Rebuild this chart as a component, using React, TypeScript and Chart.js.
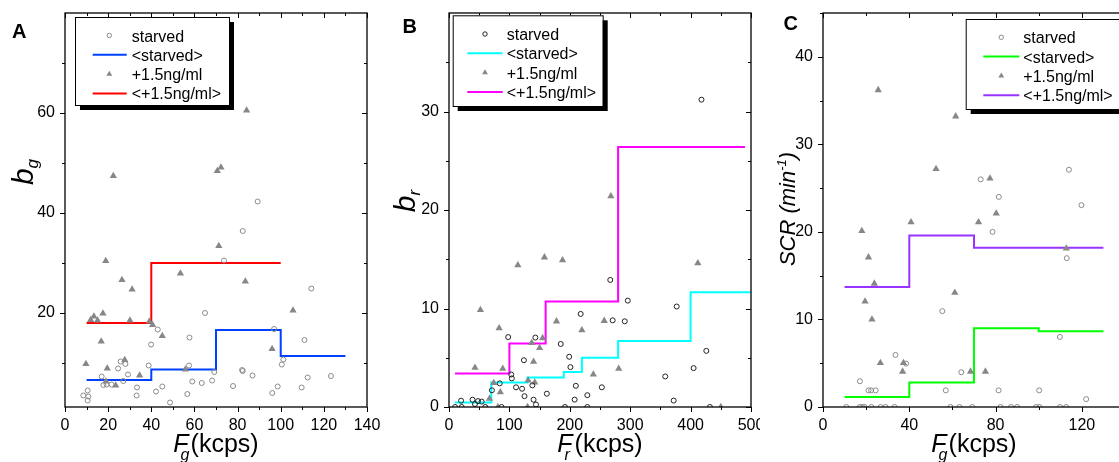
import React, { useEffect, useRef } from "react";
import { Chart, registerables } from "chart.js";

Chart.register(...registerables);

const FONT = "'Liberation Sans', Arial, Helvetica, sans-serif";

// ---------------- Panel A : b_g vs F_g ----------------
const aStarvedX = [8.5, 10.5, 10.8, 10.5, 17, 17.8, 19.3, 21.6, 24.6, 25.8, 27, 28, 29.2, 33.4, 33.2, 38.8, 39.9, 43, 42.2, 45.1, 48.7, 56.7, 57.5, 57.7, 59, 63.4, 64.9, 68.2, 69.2, 73.7, 77.9, 82.1, 82.4, 82.4, 86.9, 89.3, 96.9, 96.1, 98.6, 100.5, 101.2, 109.7, 111, 112.5, 114.2, 123.3];
const aStarvedY = [3.5, 4.5, 3.3, 2.5, 7.3, 5.6, 5.7, 5.7, 8.9, 10.3, 6.4, 9.8, 7.7, 5.1, 3.5, 9.5, 13.7, 16.7, 4.3, 5.3, 2.1, 3.8, 9.5, 15.1, 6.3, 6.0, 20, 6.5, 8.2, 30.5, 5.4, 8.6, 8.4, 36.4, 7.5, 42.3, 16.8, 4.0, 5.3, 9.7, 10.7, 5.1, 14.6, 7.1, 24.9, 7.4];
const aDrugX = [9.7, 11.9, 13.4, 15.1, 17.6, 16.8, 18.9, 22.4, 19.6, 19, 23.5, 26.4, 27.7, 31.1, 30.1, 34.6, 39.1, 40.6, 45.1, 53.5, 55.8, 70.6, 72.3, 71.3, 84.2, 83.6, 96, 105.7];
const aDrugY = [9.8, 18.6, 19.3, 18.5, 19.9, 14.3, 30.4, 47.4, 8.9, 6.3, 5.5, 26.6, 10.6, 24.7, 18.5, 7.5, 18.3, 17.6, 15.4, 27.9, 8.7, 48.4, 49.1, 33.4, 60.5, 26.3, 12.8, 20.5];
const aMeanStarvedEdges = [10, 40, 70, 100, 130];
const aMeanStarvedLevels = [6.6, 8.7, 16.6, 11.4];
const aMeanDrugEdges = [10, 40, 100];
const aMeanDrugLevels = [18, 30];
const aXLabels = [0, 20, 40, 60, 80, 100, 120, 140];
const aXMinor = [10, 30, 50, 70, 90, 110, 130];
const aYLabels = [20, 40, 60];
const aYMinor = [10, 30, 50, 70];

// ---------------- Panel B : b_r vs F_r ----------------
const bStarvedX = [10, 20, 21, 39, 43, 48, 54, 60, 71, 84, 87, 98, 103, 104, 111, 121, 124, 125, 138, 140, 143, 144, 162, 185, 192, 199, 201, 208, 210, 218, 229, 229, 253, 267, 271, 291, 296, 358, 372, 377, 405, 418, 426, 432];
const bStarvedY = [0, 0.64, 0, 0.74, 0.3, 0.6, 0.55, 0, 1.7, 2.4, 0, 7.1, 3.3, 2.9, 2.0, 1.85, 4.75, 1.1, 2.2, 0.74, 7.05, 0.25, 1.35, 6.4, 0, 5.1, 4.05, 0.75, 2.15, 9.45, 1.2, 0, 2.0, 12.9, 8.8, 8.7, 10.8, 3.1, 0.65, 10.2, 3.95, 31.2, 5.7, 0];
const bDrugX = [43, 52, 67, 74, 81, 83, 85, 89, 114, 130, 131, 137, 140, 142, 150, 155, 158, 178, 188, 220, 239, 257, 268, 281, 412, 450];
const bDrugY = [4.0, 9.85, 0.85, 2.45, 0, 8.0, 1.5, 3.9, 14.4, 0, 2.7, 6.5, 4.6, 2.5, 6.0, 7.0, 15.2, 8.7, 14.9, 7.8, 3.3, 8.75, 21.4, 3.9, 14.6, 0];
const bMeanStarvedEdges = [10, 70, 130, 190, 220, 280, 400, 500];
const bMeanStarvedLevels = [0.45, 2.5, 3.0, 3.55, 5.0, 6.7, 11.65];
const bMeanDrugEdges = [10, 100, 160, 280, 490];
const bMeanDrugLevels = [3.4, 6.45, 10.7, 26.4];
const bXLabels = [0, 100, 200, 300, 400, 500];
const bXMinor = [50, 150, 250, 350, 450];
const bYLabels = [0, 10, 20, 30];
const bYMinor = [5, 15, 25, 35];

// ---------------- Panel C : SCR vs F_g ----------------
const cStarvedX = [10.8, 17, 18.2, 19.3, 22.4, 26.7, 29, 33.2, 59.1, 63.3, 69.2, 82.3, 87.2, 90, 98.8, 100.3, 109.9, 112.7, 17.1, 21.1, 22.3, 24.4, 33.6, 38.5, 55.3, 56.9, 64.1, 73.1, 81.5, 78.6, 81.4, 100.2, 109.8, 113, 114, 119.8, 122];
const cStarvedY = [0, 0, 0, 0, 0, 0, 0, 0, 0, 0, 0, 0, 0, 0, 0, 0, 0, 0, 2.94, 1.9, 1.9, 1.9, 5.95, 4.96, 10.95, 1.9, 3.97, 26, 24, 20, 1.9, 1.9, 8, 17, 27.1, 23.05, 0.9];
const cDrugX = [25.6, 18, 21.1, 23.8, 19.5, 22.7, 26.6, 37.3, 36.9, 40.8, 52.4, 61.5, 61.1, 68.4, 72.1, 75.3, 77.4, 80.3, 112.8];
const cDrugY = [36.2, 20.1, 17.1, 14.1, 12.06, 10, 5.04, 5.04, 4.05, 21.1, 27.2, 33.2, 13.05, 4.05, 21.1, 4.05, 26.1, 22.1, 18.1];
const cMeanStarvedEdges = [10, 40, 70, 100, 130];
const cMeanStarvedLevels = [1.15, 2.8, 9.0, 8.65];
const cMeanDrugEdges = [10, 40, 70, 130];
const cMeanDrugLevels = [13.7, 19.6, 18.2];
const cXLabels = [0, 40, 80, 120];
const cXMinor = [20, 60, 100, 140];
const cYLabels = [0, 10, 20, 30, 40];
const cYMinor = [5, 15, 25, 35, 45];

const LEGEND_LABELS = ["starved", "<starved>", "+1.5ng/ml", "<+1.5ng/ml>"];

function toPoints(xs: number[], ys: number[]) {
  return xs.map((x, i) => ({ x, y: ys[i] }));
}
function stepPoints(edges: number[], levels: number[]) {
  const p = edges.slice(0, -1).map((x, i) => ({ x, y: levels[i] }));
  p.push({ x: edges[edges.length - 1], y: levels[levels.length - 1] });
  return p;
}

type Part = { text: string; font: string; dy?: number; dx?: number; adv?: boolean };

function partsWidth(ctx: CanvasRenderingContext2D, parts: Part[]) {
  let w = 0;
  for (const p of parts) {
    ctx.font = p.font;
    const mw = ctx.measureText(p.text).width;
    if (p.adv !== false) w += mw + (p.dx || 0);
  }
  return w;
}
function drawParts(ctx: CanvasRenderingContext2D, parts: Part[], x: number, y: number) {
  let cx = x;
  for (const p of parts) {
    ctx.font = p.font;
    const mw = ctx.measureText(p.text).width;
    ctx.fillText(p.text, cx + (p.dx || 0), y + (p.dy || 0));
    if (p.adv !== false) cx += mw + (p.dx || 0);
  }
}

const decoPlugin = {
  id: "deco",
  afterDatasetsDraw(chart: any, _a: any, o: any) {
    const ctx: CanvasRenderingContext2D = chart.ctx;
    const ca = chart.chartArea;
    const xs = chart.scales.x;
    const ys = chart.scales.y;
    ctx.save();
    ctx.strokeStyle = "#000";
    ctx.lineWidth = 1.3;
    ctx.strokeRect(ca.left, ca.top, ca.right - ca.left, ca.bottom - ca.top);
    ctx.lineWidth = 1;
    ctx.beginPath();
    const xt: [number[], number][] = [[o.xMajor, 5], [o.xMinor, 3]];
    for (const [vals, len] of xt) {
      for (const v of vals) {
        const px = Math.round(xs.getPixelForValue(v)) + 0.5;
        ctx.moveTo(px, ca.bottom);
        ctx.lineTo(px, ca.bottom + len);
        ctx.moveTo(px, ca.top);
        ctx.lineTo(px, ca.top + len);
      }
    }
    const yt: [number[], number][] = [[o.yMajor, 5], [o.yMinor, 3]];
    for (const [vals, len] of yt) {
      for (const v of vals) {
        const py = Math.round(ys.getPixelForValue(v)) + 0.5;
        ctx.moveTo(ca.left, py);
        ctx.lineTo(ca.left - len, py);
        ctx.moveTo(ca.right, py);
        ctx.lineTo(ca.right - len, py);
      }
    }
    ctx.stroke();
    ctx.restore();
  },
  afterDraw(chart: any, _a: any, o: any) {
    const ctx: CanvasRenderingContext2D = chart.ctx;
    const ca = chart.chartArea;
    ctx.save();
    // legend
    const L = o.legend;
    ctx.fillStyle = "#000";
    ctx.fillRect(L.x + 5, L.y + 5, L.w, L.h);
    ctx.fillStyle = "#fff";
    ctx.fillRect(L.x, L.y, L.w, L.h);
    ctx.strokeStyle = "#000";
    ctx.lineWidth = 1;
    ctx.strokeRect(L.x + 0.5, L.y + 0.5, L.w, L.h);
    chart.data.datasets.forEach((d: any, i: number) => {
      const base = L.base0 + i * L.step;
      const cy = base - 6;
      if (d.showLine) {
        ctx.strokeStyle = d.borderColor;
        ctx.lineWidth = 2;
        ctx.beginPath();
        ctx.moveTo(L.lineX0, cy);
        ctx.lineTo(L.lineX1, cy);
        ctx.stroke();
      } else if (d.pointStyle === "triangle") {
        const r = 3.4;
        ctx.fillStyle = d.backgroundColor;
        ctx.beginPath();
        ctx.moveTo(L.markX, cy - r);
        ctx.lineTo(L.markX + r * 0.866, cy + r / 2);
        ctx.lineTo(L.markX - r * 0.866, cy + r / 2);
        ctx.closePath();
        ctx.fill();
      } else {
        ctx.strokeStyle = d.borderColor;
        ctx.lineWidth = 1;
        ctx.beginPath();
        ctx.arc(L.markX, cy, 2.2, 0, Math.PI * 2);
        ctx.stroke();
      }
      ctx.fillStyle = "#000";
      ctx.font = `16px ${FONT}`;
      ctx.textBaseline = "alphabetic";
      ctx.textAlign = "left";
      ctx.fillText(d.label, L.textX, base);
    });
    // panel letter
    ctx.fillStyle = "#000";
    ctx.font = `bold 20px ${FONT}`;
    ctx.fillText(o.letter.text, o.letter.x, o.letter.y);
    // x title
    const xp: Part[] = o.xTitle;
    const w = partsWidth(ctx, xp);
    drawParts(ctx, xp, (ca.left + ca.right) / 2 - w / 2, o.xTitleY);
    // y title
    const yp: Part[] = o.yTitle;
    const wy = partsWidth(ctx, yp);
    ctx.translate(o.yTitleX, o.yTitleCY);
    ctx.rotate(-Math.PI / 2);
    drawParts(ctx, yp, -wy / 2, 0);
    ctx.restore();
  },
};

type PanelCfg = {
  left: number;
  width: number;
  yAxisW: number;
  padRight: number;
  xMin: number;
  xMax: number;
  yMin: number;
  yMax: number;
  xLabels: number[];
  xMinor: number[];
  yLabels: number[];
  yMinor: number[];
  starved: { x: number; y: number }[];
  drug: { x: number; y: number }[];
  meanStarved: { x: number; y: number }[];
  meanDrug: { x: number; y: number }[];
  circleColor: string;
  colorStarved: string;
  colorDrug: string;
  legend: any;
  letter: any;
  xTitle: Part[];
  yTitle: Part[];
  yTitleX: number;
  yTitleCY: number;
};

const it = (s: number) => `italic ${s}px ${FONT}`;
const rg = (s: number) => `${s}px ${FONT}`;

const panels: PanelCfg[] = [
  {
    left: 0, width: 380, yAxisW: 65, padRight: 13,
    xMin: 0, xMax: 140, yMin: 1.2, yMax: 80,
    xLabels: aXLabels, xMinor: aXMinor, yLabels: aYLabels, yMinor: aYMinor,
    starved: toPoints(aStarvedX, aStarvedY), drug: toPoints(aDrugX, aDrugY),
    meanStarved: stepPoints(aMeanStarvedEdges, aMeanStarvedLevels),
    meanDrug: stepPoints(aMeanDrugEdges, aMeanDrugLevels),
    circleColor: "#8a8a8a", colorStarved: "#0040ff", colorDrug: "#ff0000",
    legend: { x: 75, y: 17, w: 154, h: 88, textX: 131.7, lineX0: 92.7, lineX1: 126.7, markX: 109.3, base0: 41.5, step: 19.3 },
    letter: { text: "A", x: 12, y: 38 },
    xTitle: [
      { text: "F", font: it(25) },
      { text: "g", font: it(16), dx: -8, dy: 8, adv: false },
      { text: "(kcps)", font: rg(25), dx: 2 },
    ],
    yTitle: [
      { text: "b", font: it(30) },
      { text: "g", font: it(17), dy: 5 },
    ],
    yTitleX: 33, yTitleCY: 172,
  },
  {
    left: 380, width: 380, yAxisW: 69, padRight: 9,
    xMin: 0, xMax: 500, yMin: 0, yMax: 40,
    xLabels: bXLabels, xMinor: bXMinor, yLabels: bYLabels, yMinor: bYMinor,
    starved: toPoints(bStarvedX, bStarvedY), drug: toPoints(bDrugX, bDrugY),
    meanStarved: stepPoints(bMeanStarvedEdges, bMeanStarvedLevels),
    meanDrug: stepPoints(bMeanDrugEdges, bMeanDrugLevels),
    circleColor: "#222222", colorStarved: "#00ffff", colorDrug: "#ff00ff",
    legend: { x: 72.7, y: 15.3, w: 150, h: 90.7, textX: 126.7, lineX0: 87.3, lineX1: 122.7, markX: 105, base0: 40, step: 19.3 },
    letter: { text: "B", x: 22.5, y: 33 },
    xTitle: [
      { text: "F", font: it(25) },
      { text: "r", font: it(16), dx: -8, dy: 8, adv: false },
      { text: "(kcps)", font: rg(25), dx: 2 },
    ],
    yTitle: [
      { text: "b", font: it(30) },
      { text: "r", font: it(17), dy: 5 },
    ],
    yTitleX: 35, yTitleCY: 201,
  },
  {
    left: 760, width: 380, yAxisW: 63, padRight: 15,
    xMin: 0, xMax: 140, yMin: 0, yMax: 45,
    xLabels: cXLabels, xMinor: cXMinor, yLabels: cYLabels, yMinor: cYMinor,
    starved: toPoints(cStarvedX, cStarvedY), drug: toPoints(cDrugX, cDrugY),
    meanStarved: stepPoints(cMeanStarvedEdges, cMeanStarvedLevels),
    meanDrug: stepPoints(cMeanDrugEdges, cMeanDrugLevels),
    circleColor: "#8a8a8a", colorStarved: "#00ff00", colorDrug: "#9933ff",
    legend: { x: 205.7, y: 19, w: 160, h: 90, textX: 263.3, lineX0: 223.3, lineX1: 259.3, markX: 241.3, base0: 43.3, step: 19.3 },
    letter: { text: "C", x: 23.5, y: 29.5 },
    xTitle: [
      { text: "F", font: it(25) },
      { text: "g", font: it(16), dx: -8, dy: 8, adv: false },
      { text: "(kcps)", font: rg(25), dx: 2 },
    ],
    yTitle: [
      { text: "SCR (min", font: it(22) },
      { text: "-1", font: it(13), dy: -9 },
      { text: ")", font: it(22) },
    ],
    yTitleX: 35, yTitleCY: 209,
  },
];

function zeroPad(s: any) {
  s.paddingLeft = 0;
  s.paddingRight = 0;
  s.paddingTop = 0;
  s.paddingBottom = 0;
}

function Panel({ cfg }: { cfg: PanelCfg }) {
  const ref = useRef<HTMLCanvasElement>(null);
  useEffect(() => {
    if (!ref.current) return;
    const chart = new Chart(ref.current, {
      type: "scatter",
      data: {
        datasets: [
          {
            label: LEGEND_LABELS[0], data: cfg.starved, pointStyle: "circle", pointRadius: 2.5,
            borderColor: cfg.circleColor, backgroundColor: "rgba(0,0,0,0)", borderWidth: 1,
            showLine: false, clip: 0, order: 0,
          } as any,
          {
            label: LEGEND_LABELS[1], data: cfg.meanStarved, showLine: true, stepped: "before",
            borderColor: cfg.colorStarved, backgroundColor: cfg.colorStarved, borderWidth: 2,
            pointRadius: 0, fill: false, clip: 0, order: 2,
          } as any,
          {
            label: LEGEND_LABELS[2], data: cfg.drug, pointStyle: "triangle", pointRadius: 4.2,
            borderColor: "#878787", backgroundColor: "#878787", borderWidth: 0,
            showLine: false, clip: 0, order: 1,
          } as any,
          {
            label: LEGEND_LABELS[3], data: cfg.meanDrug, showLine: true, stepped: "before",
            borderColor: cfg.colorDrug, backgroundColor: cfg.colorDrug, borderWidth: 2,
            pointRadius: 0, fill: false, clip: 0, order: 3,
          } as any,
        ],
      },
      options: {
        animation: false,
        responsive: false,
        devicePixelRatio: 1,
        events: [],
        layout: { padding: { left: 0, right: cfg.padRight, top: 13, bottom: 0 } },
        plugins: {
          legend: { display: false },
          tooltip: { enabled: false },
          deco: {
            xMajor: cfg.xLabels, xMinor: cfg.xMinor, yMajor: cfg.yLabels, yMinor: cfg.yMinor,
            legend: cfg.legend, letter: cfg.letter, xTitle: cfg.xTitle, xTitleY: 452,
            yTitle: cfg.yTitle, yTitleX: cfg.yTitleX, yTitleCY: cfg.yTitleCY,
          },
        } as any,
        scales: {
          x: {
            type: "linear", min: cfg.xMin, max: cfg.xMax, bounds: "data",
            grid: { display: false, drawTicks: false }, border: { display: false },
            ticks: { color: "#000", font: { family: FONT, size: 16 }, padding: 8.5, autoSkip: false, maxRotation: 0 },
            afterBuildTicks: (s: any) => { s.ticks = cfg.xLabels.map((v) => ({ value: v })); },
            afterFit: (s: any) => { s.height = 55; zeroPad(s); },
          },
          y: {
            type: "linear", min: cfg.yMin, max: cfg.yMax, bounds: "data",
            grid: { display: false, drawTicks: false }, border: { display: false },
            ticks: { color: "#000", font: { family: FONT, size: 16 }, padding: 10, autoSkip: false },
            afterBuildTicks: (s: any) => { s.ticks = cfg.yLabels.map((v) => ({ value: v })); },
            afterFit: (s: any) => { s.width = cfg.yAxisW; zeroPad(s); },
          },
        } as any,
      },
      plugins: [decoPlugin as any],
    });
    return () => chart.destroy();
  }, [cfg]);
  return (
    <canvas
      ref={ref}
      width={cfg.width}
      height={462}
      style={{ position: "absolute", left: cfg.left, top: 0, width: cfg.width, height: 462 }}
    />
  );
}

export default function App() {
  return (
    <div
      style={{
        position: "absolute", left: 0, top: 0, width: 1119, height: 462,
        overflow: "hidden", background: "#fff",
      }}
    >
      {panels.map((p, i) => (
        <Panel key={i} cfg={p} />
      ))}
    </div>
  );
}
